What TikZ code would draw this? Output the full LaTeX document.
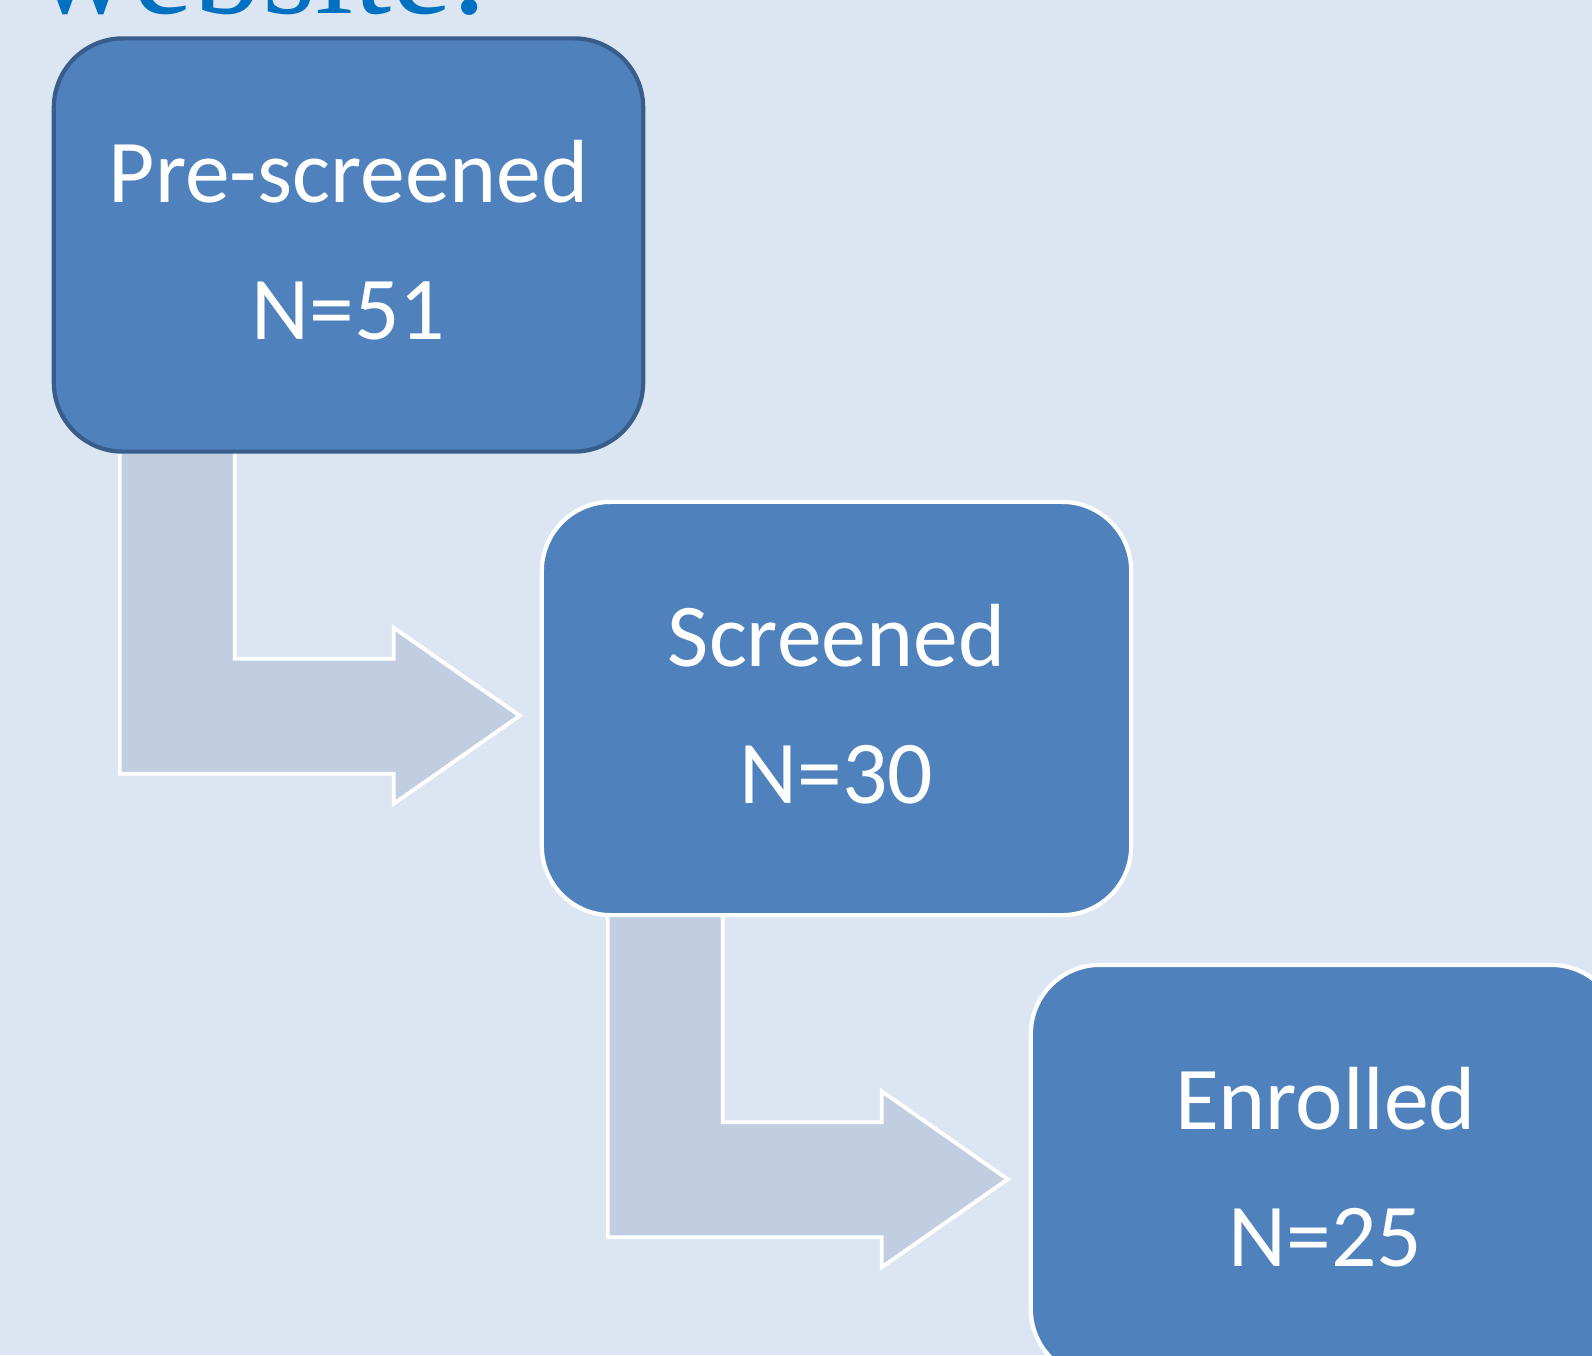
\documentclass[tikz,border=0pt]{standalone}
\usepackage{fontspec}
\setmainfont{Carlito}
\newfontfamily\titlefont{Liberation Serif}
\usetikzlibrary{backgrounds}
\definecolor{slidebg}{RGB}{220,230,242}
\definecolor{boxblue}{RGB}{79,129,189}
\definecolor{boxedge}{RGB}{56,93,138}
\definecolor{arrowfill}{RGB}{193,205,225}
\definecolor{titleblue}{RGB}{0,112,192}
\tikzset{
  stagebox/.style={draw=white,line width=1.2pt,fill=boxblue,rounded corners=0.69cm,
    minimum width=5.89cm,minimum height=4.13cm,text=white,align=center,text depth=0.1cm,
    font=\fontsize{25.5}{39}\selectfont},
  bentarrow/.style={draw=white,line width=1.1pt,fill=arrowfill},
}

\begin{document}
\begin{tikzpicture}[x=0.01cm,y=-0.01cm]
\useasboundingbox (0,0) rectangle (1592,1355);
\clip (0,0) rectangle (1592,1355);
% slide title, cut off at the top
\node[anchor=base west,text=titleblue,inner sep=0pt,
  font=\titlefont\fontsize{39}{42}\selectfont] (title) at (33,14) {website.};
\node[stagebox,draw=boxedge] (pre) at (348.5,245) {Pre-screened\\N=51};
\node[stagebox] (scr) at (836.5,708.5) {Screened\\N=30};
\node[stagebox] (enr) at (1325.5,1171.5) {Enrolled\\N=25};
\begin{scope}[on background layer]
\fill[slidebg] (0,0) rectangle (1592,1355);
% bent arrows under the boxes
\foreach \from in {pre,scr}
  \draw[bentarrow,shift={(\from.south west)}] (68,-20) -- (68,320) -- (342,320) -- (342,350)
    -- (468,262) -- (342,174) -- (342,205) -- (183,205) -- (183,-20) -- cycle;
\end{scope}
\end{tikzpicture}
\end{document}
